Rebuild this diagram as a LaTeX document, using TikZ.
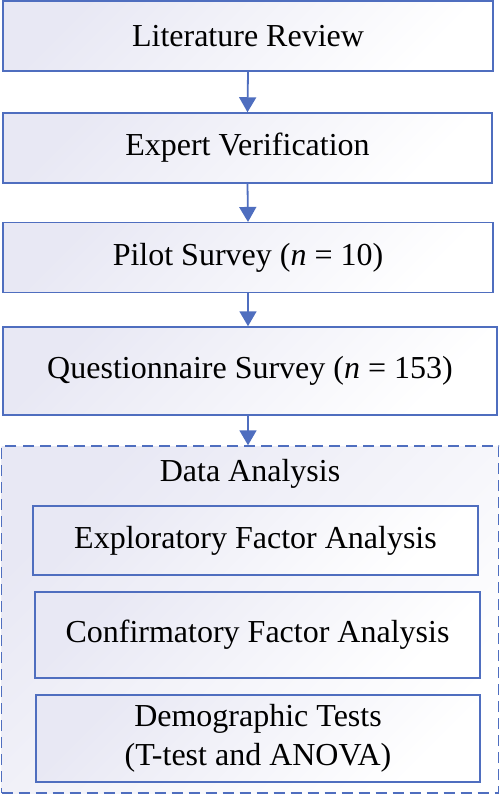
\documentclass[tikz,border=0pt]{standalone}
\usepackage{fontspec}
\setmainfont{Liberation Serif}
\usetikzlibrary{arrows.meta}
\definecolor{boxblue}{HTML}{4F6EBF}
\definecolor{boxtint}{HTML}{E8E8F4}
\tikzset{
    box/.style={draw=boxblue, line width=1.5pt, rectangle, align=center,
        left color=boxtint, right color=white, shading angle=45,
        font=\fontsize{32}{39}\selectfont, inner sep=0pt},
    outerbox/.style={box, dashed, dash pattern=on 11pt off 6pt},
    flow/.style={draw=boxblue, line width=1.8pt, -{Triangle[width=17pt,length=15pt]}}
}
\begin{document}
\begin{tikzpicture}[x=1pt, y=-1pt]
    \useasboundingbox (0,0) rectangle (500,795);
    % Riquadri principali
    \node[box, minimum width=490pt, minimum height=70pt] (lit) at (248,36) {Literature Review};
    \node[box, minimum width=489pt, minimum height=70pt] (exp) at (247.5,148) {Expert Verification};
    \node[box, minimum width=490pt, minimum height=70pt] (pilot) at (248,257.7) {Pilot Survey (\textit{n} = 10)};
    \node[box, minimum width=494pt, minimum height=88pt] (quest) at (250,371) {Questionnaire Survey (\textit{n} = 153)};

    % Analisi dei dati
    \node[outerbox, minimum width=497pt, minimum height=347pt] (data) at (250,619.5) {};
    \node[font=\fontsize{32}{39}\selectfont] (datatitle) at (250,474) {Data Analysis};
    \node[box, minimum width=445pt, minimum height=69pt] (efa) at (255.5,540.5) {Exploratory Factor Analysis};
    \node[box, minimum width=445pt, minimum height=86pt] (cfa) at (257.5,635) {Confirmatory Factor Analysis};
    \node[box, minimum width=444pt, minimum height=87pt] (demo) at (258,738.5) {Demographic Tests\\(T-test and ANOVA)};

    % Frecce
    \draw[flow] (lit.south) -- (exp.north);
    \draw[flow] (exp.south) -- (pilot.north);
    \draw[flow] (pilot.south) -- (pilot.south |- quest.north);
    \draw[flow] (quest.south -| pilot.south) -- (pilot.south |- data.north);
\end{tikzpicture}
\end{document}
